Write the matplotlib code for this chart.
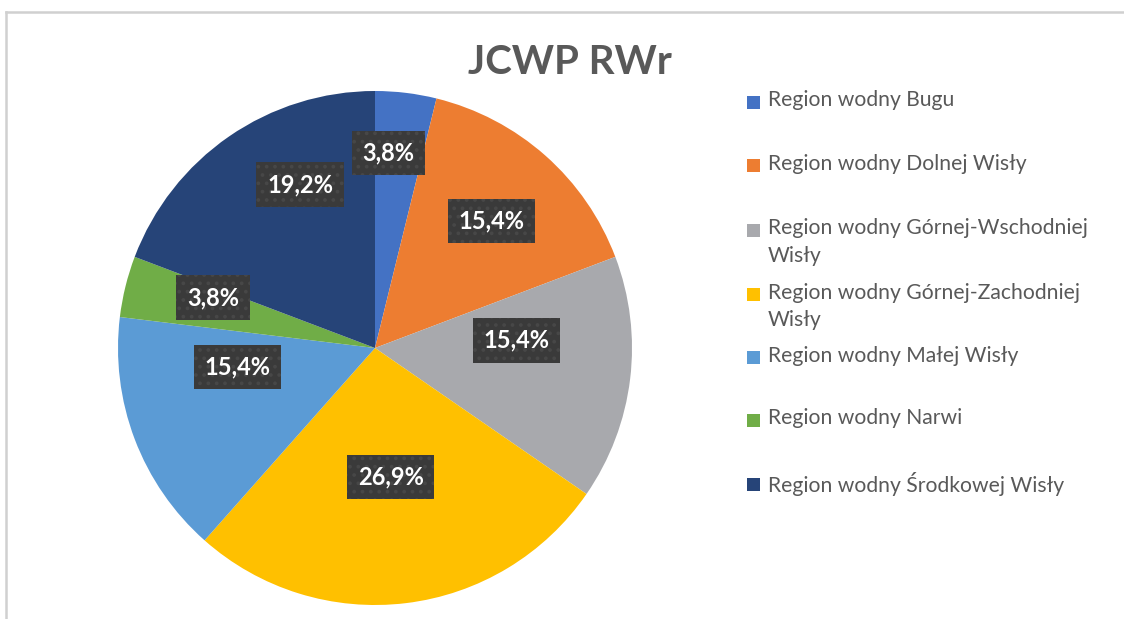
import numpy as np
import matplotlib.pyplot as plt
from matplotlib.lines import Line2D
from matplotlib.patches import Rectangle

plt.rcParams['font.family'] = ['Lato', 'DejaVu Sans']
plt.rcParams['hatch.linewidth'] = 1.5

title = "JCWP RWr"
regions = [
    "Region wodny Bugu",
    "Region wodny Dolnej Wisły",
    "Region wodny Górnej-Wschodniej\nWisły",
    "Region wodny Górnej-Zachodniej\nWisły",
    "Region wodny Małej Wisły",
    "Region wodny Narwi",
    "Region wodny Środkowej Wisły",
]
counts = [1, 4, 4, 7, 4, 1, 5]
colors = ["#4472C4", "#ED7D31", "#A8A9AD", "#FFC000", "#5B9BD5", "#70AD47", "#264478"]

# label placement (fraction of radius, angle tweak in degrees)
label_r = [0.76, 0.67, 0.55, 0.505, 0.54, 0.66, 0.70]
label_dt = [3, -1, 10, 0, -13, -3.5, -10]

fig = plt.figure(figsize=(11.24, 6.19), dpi=100)

W, H = 1124, 619
ax = fig.add_axes([118 / W, 14 / H, 514 / W, 514 / H])
wedges, _ = ax.pie(counts, colors=colors, startangle=90, counterclock=False,
                   radius=1, wedgeprops=dict(linewidth=0))
ax.set_xlim(-1, 1)
ax.set_ylim(-1, 1)
ax.set_aspect('equal')
ax.axis('off')

total = sum(counts)
for w, c, r, dt in zip(wedges, counts, label_r, label_dt):
    ang = np.deg2rad((w.theta1 + w.theta2) / 2 + dt)
    pct = "{:.1f}%".format(100 * c / total).replace(".", ",")
    ax.text(r * np.cos(ang), r * np.sin(ang), pct, ha='center', va='center',
            color='white', fontsize=17, fontweight='bold',
            bbox=dict(boxstyle='square,pad=0.45', facecolor='#3a3a3a',
                      edgecolor='#474747', linewidth=0, hatch='..'))

fig.text(570 / W, 1 - 62 / H, title, ha='center', va='center',
         fontsize=29, fontweight='bold', color='#595959')

# legend drawn by hand
leg_y = [102, 165, 230, 294, 357, 420, 484]
for name, col, y in zip(regions, colors, leg_y):
    fig.patches.append(Rectangle((747 / W, 1 - (y + 7) / H), 13 / W, 13 / H,
                                 transform=fig.transFigure, facecolor=col,
                                 edgecolor='none'))
    fig.text(768 / W, 1 - (y - 11.5) / H, name, ha='left', va='top',
             fontsize=15.2, color='#595959', linespacing=1.45)

# chart frame (left and top edges visible)
fig.lines.append(Line2D([6 / W, 6 / W], [0, 1 - 11.5 / H], transform=fig.transFigure,
                        color='#d0d0d0', linewidth=1.8))
fig.lines.append(Line2D([6 / W, 1], [1 - 11.5 / H, 1 - 11.5 / H], transform=fig.transFigure,
                        color='#d0d0d0', linewidth=1.8))

fig.savefig("out.png", dpi=100)
